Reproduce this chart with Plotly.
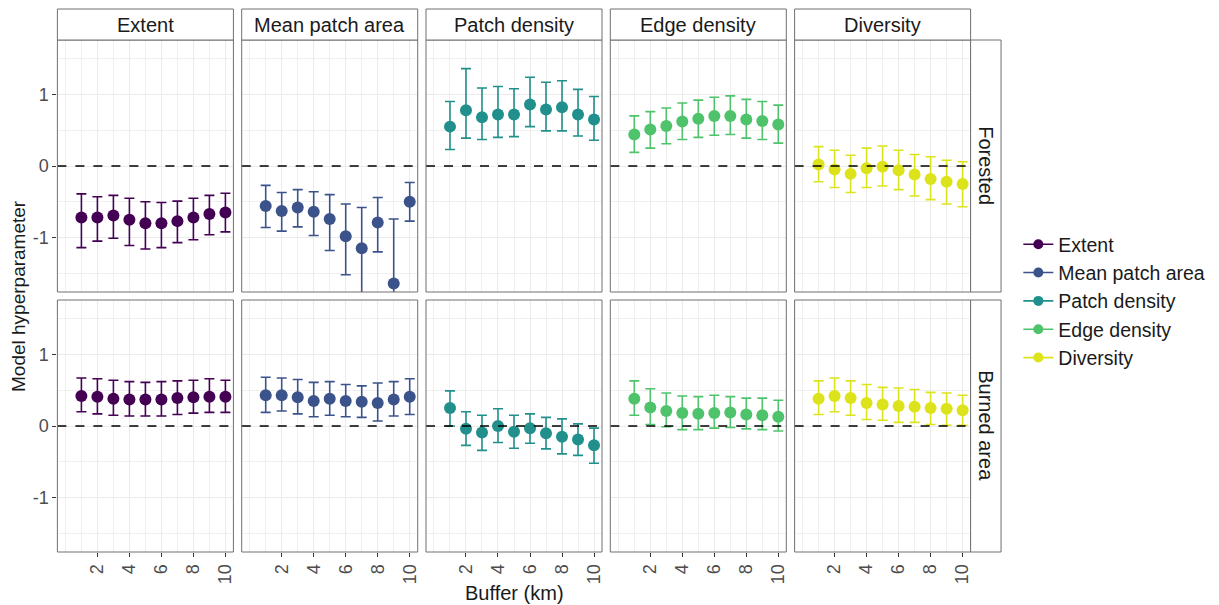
import plotly.graph_objects as go

buffer_km = [1, 2, 3, 4, 5, 6, 7, 8, 9, 10]
metrics = ["Extent", "Mean patch area", "Patch density", "Edge density", "Diversity"]
landscapes = ["Forested", "Burned area"]
colors = ["#440154", "#3B528B", "#21908C", "#4EC36B", "#DDE31A"]
x_ticks = [2, 4, 6, 8, 10]
y_ticks = [-1, 0, 1]
y_tick_text = ["-1", "0", "1"]

# Forested
ext_for_est = [-0.72, -0.72, -0.69, -0.75, -0.80, -0.80, -0.77, -0.72, -0.67, -0.65]
ext_for_hi = [-0.39, -0.43, -0.41, -0.45, -0.50, -0.51, -0.49, -0.45, -0.41, -0.38]
ext_for_lo = [-1.14, -1.05, -1.01, -1.11, -1.16, -1.14, -1.07, -1.03, -0.96, -0.92]

mpa_for_est = [-0.56, -0.63, -0.58, -0.64, -0.74, -0.98, -1.15, -0.79, -1.64, -0.50]
mpa_for_hi = [-0.27, -0.37, -0.33, -0.36, -0.40, -0.53, -0.58, -0.44, -0.74, -0.23]
mpa_for_lo = [-0.86, -0.91, -0.85, -0.97, -1.18, -1.52, -1.85, -1.20, -2.50, -0.77]

pd_for_est = [0.55, 0.78, 0.68, 0.72, 0.72, 0.86, 0.79, 0.82, 0.72, 0.65]
pd_for_hi = [0.90, 1.36, 1.09, 1.11, 1.08, 1.24, 1.17, 1.19, 1.07, 0.97]
pd_for_lo = [0.23, 0.39, 0.37, 0.40, 0.41, 0.55, 0.49, 0.49, 0.42, 0.36]

ed_for_est = [0.44, 0.51, 0.56, 0.62, 0.66, 0.70, 0.70, 0.65, 0.63, 0.58]
ed_for_hi = [0.70, 0.76, 0.81, 0.88, 0.92, 0.96, 0.98, 0.93, 0.90, 0.85]
ed_for_lo = [0.19, 0.25, 0.31, 0.37, 0.40, 0.43, 0.44, 0.39, 0.37, 0.32]

div_for_est = [0.02, -0.05, -0.11, -0.03, -0.01, -0.06, -0.12, -0.18, -0.22, -0.25]
div_for_hi = [0.27, 0.22, 0.15, 0.25, 0.28, 0.22, 0.16, 0.13, 0.08, 0.06]
div_for_lo = [-0.22, -0.30, -0.37, -0.30, -0.28, -0.33, -0.42, -0.47, -0.53, -0.57]

# Burned area
ext_bur_est = [0.42, 0.41, 0.38, 0.37, 0.37, 0.37, 0.39, 0.40, 0.41, 0.41]
ext_bur_hi = [0.67, 0.66, 0.64, 0.62, 0.61, 0.62, 0.63, 0.64, 0.66, 0.64]
ext_bur_lo = [0.20, 0.17, 0.15, 0.14, 0.14, 0.14, 0.16, 0.18, 0.19, 0.19]

mpa_bur_est = [0.43, 0.43, 0.40, 0.35, 0.38, 0.35, 0.34, 0.32, 0.37, 0.41]
mpa_bur_hi = [0.68, 0.67, 0.65, 0.61, 0.62, 0.58, 0.56, 0.60, 0.62, 0.66]
mpa_bur_lo = [0.19, 0.21, 0.17, 0.13, 0.15, 0.13, 0.12, 0.07, 0.14, 0.16]

pd_bur_est = [0.25, -0.04, -0.09, 0.00, -0.08, -0.03, -0.10, -0.15, -0.19, -0.27]
pd_bur_hi = [0.49, 0.20, 0.15, 0.24, 0.15, 0.17, 0.12, 0.10, 0.03, -0.03]
pd_bur_lo = [0.00, -0.27, -0.34, -0.23, -0.31, -0.24, -0.32, -0.39, -0.41, -0.52]

ed_bur_est = [0.38, 0.26, 0.21, 0.18, 0.17, 0.18, 0.19, 0.16, 0.15, 0.13]
ed_bur_hi = [0.63, 0.52, 0.46, 0.42, 0.41, 0.43, 0.41, 0.39, 0.39, 0.36]
ed_bur_lo = [0.15, 0.02, -0.01, -0.05, -0.05, -0.03, -0.02, -0.04, -0.05, -0.07]

div_bur_est = [0.38, 0.42, 0.39, 0.32, 0.30, 0.28, 0.27, 0.25, 0.24, 0.22]
div_bur_hi = [0.63, 0.67, 0.63, 0.58, 0.54, 0.53, 0.51, 0.47, 0.46, 0.43]
div_bur_lo = [0.16, 0.20, 0.15, 0.09, 0.08, 0.05, 0.05, 0.02, 0.01, 0.01]

series = [
    [(ext_for_est, ext_for_lo, ext_for_hi), (mpa_for_est, mpa_for_lo, mpa_for_hi),
     (pd_for_est, pd_for_lo, pd_for_hi), (ed_for_est, ed_for_lo, ed_for_hi),
     (div_for_est, div_for_lo, div_for_hi)],
    [(ext_bur_est, ext_bur_lo, ext_bur_hi), (mpa_bur_est, mpa_bur_lo, mpa_bur_hi),
     (pd_bur_est, pd_bur_lo, pd_bur_hi), (ed_bur_est, ed_bur_lo, ed_bur_hi),
     (div_bur_est, div_bur_lo, div_bur_hi)],
]

W, H = 1219, 605
FONT = "Liberation Sans, Arial, sans-serif"
panel_left0 = 57.5
panel_w = 176.3
panel_step = 184.6
row_tops = [40.0, 300.0]
panel_h = 252.0
strip_h = 31.0
strip_w = 30.5

def fx(px):
    return px / W

def fy(py):
    return 1 - py / H

fig = go.Figure()
layout = dict(
    width=W, height=H, margin=dict(l=0, r=0, t=0, b=0),
    paper_bgcolor="white", plot_bgcolor="white",
    font=dict(family=FONT, color="#1A1A1A"),
    shapes=[], annotations=[],
)

for r in range(2):
    for c in range(5):
        k = r * 5 + c + 1
        xa = "xaxis" if k == 1 else f"xaxis{k}"
        ya = "yaxis" if k == 1 else f"yaxis{k}"
        xr = "x" if k == 1 else f"x{k}"
        yr = "y" if k == 1 else f"y{k}"
        x0 = panel_left0 + c * panel_step
        x1 = x0 + panel_w
        y0 = row_tops[r]
        y1 = y0 + panel_h
        layout[xa] = dict(
            domain=[fx(x0), fx(x1)], anchor=yr, range=[-0.5, 10.5],
            tickmode="array", tickvals=x_ticks,
            showticklabels=(r == 1), tickangle=-90,
            tickfont=dict(size=18, color="#4D4D4D", family=FONT),
            ticks="outside" if r == 1 else "", ticklen=4, tickcolor="#333333", tickwidth=1,
            showgrid=True, gridcolor="#EBEBEB", gridwidth=1,
            minor=dict(tickmode="array", tickvals=[0, 1, 3, 5, 7, 9], showgrid=True,
                       gridcolor="#F0F0F0", gridwidth=0.6, ticks=""),
            zeroline=False, showline=False,
        )
        layout[ya] = dict(
            domain=[fy(y1), fy(y0)], anchor=xr, range=[-1.76, 1.76],
            tickmode="array", tickvals=y_ticks, ticktext=y_tick_text,
            showticklabels=(c == 0),
            tickfont=dict(size=18, color="#4D4D4D", family=FONT),
            ticks="outside" if c == 0 else "", ticklen=4, tickcolor="#333333", tickwidth=1,
            showgrid=True, gridcolor="#EBEBEB", gridwidth=1,
            minor=dict(tickmode="array", tickvals=[-1.5, -0.5, 0.5, 1.5], showgrid=True,
                       gridcolor="#F0F0F0", gridwidth=0.6, ticks=""),
            zeroline=False, showline=False,
        )
        est, lo, hi = series[r][c]
        fig.add_trace(go.Scatter(
            x=buffer_km, y=est, mode="markers", xaxis=xr, yaxis=yr,
            marker=dict(size=12, color=colors[c]),
            error_y=dict(type="data", symmetric=False,
                         array=[h - e for h, e in zip(hi, est)],
                         arrayminus=[e - l for e, l in zip(est, lo)],
                         color=colors[c], thickness=1.6, width=5),
            showlegend=False, hoverinfo="skip",
        ))
        # zero line
        layout["shapes"].append(dict(
            type="line", xref=f"{xr} domain", yref=yr, x0=0, x1=1, y0=0, y1=0,
            line=dict(color="black", width=1.3, dash="dash"), layer="above"))
        # panel border
        layout["shapes"].append(dict(
            type="rect", xref="paper", yref="paper",
            x0=fx(x0), x1=fx(x1), y0=fy(y1), y1=fy(y0),
            line=dict(color="#707070", width=1), fillcolor="rgba(0,0,0,0)", layer="above"))
        if r == 0:
            layout["shapes"].append(dict(
                type="rect", xref="paper", yref="paper",
                x0=fx(x0), x1=fx(x1), y0=fy(y0), y1=fy(y0 - strip_h),
                line=dict(color="#707070", width=1), fillcolor="white", layer="above"))
            layout["annotations"].append(dict(
                x=fx((x0 + x1) / 2), y=fy(y0 - strip_h / 2), xref="paper", yref="paper",
                text=metrics[c], showarrow=False, xanchor="center", yanchor="middle",
                font=dict(size=20, color="#1A1A1A", family=FONT)))
        if c == 4:
            layout["shapes"].append(dict(
                type="rect", xref="paper", yref="paper",
                x0=fx(x1), x1=fx(x1 + strip_w), y0=fy(y1), y1=fy(y0),
                line=dict(color="#707070", width=1), fillcolor="white", layer="above"))
            layout["annotations"].append(dict(
                x=fx(x1 + strip_w / 2), y=fy((y0 + y1) / 2), xref="paper", yref="paper",
                text=landscapes[r], showarrow=False, textangle=90,
                xanchor="center", yanchor="middle",
                font=dict(size=20, color="#1A1A1A", family=FONT)))

# legend-only traces
for c in range(5):
    fig.add_trace(go.Scatter(
        x=[None], y=[None], mode="lines+markers", name=metrics[c],
        marker=dict(size=10, color=colors[c]), line=dict(color=colors[c], width=1.6),
        showlegend=True))

layout["legend"] = dict(
    x=fx(1020), xanchor="left", y=fy(301), yanchor="middle",
    font=dict(size=19.5, color="#1A1A1A", family=FONT),
    bgcolor="rgba(0,0,0,0)", tracegroupgap=0, itemwidth=30,
)

layout["annotations"].append(dict(
    x=fx(18), y=fy(296), xref="paper", yref="paper", text="Model hyperparameter",
    showarrow=False, textangle=-90, xanchor="center", yanchor="middle",
    font=dict(size=19, color="#1A1A1A", family=FONT)))
layout["annotations"].append(dict(
    x=fx(515), y=fy(593), xref="paper", yref="paper", text="Buffer (km)",
    showarrow=False, xanchor="center", yanchor="middle",
    font=dict(size=20, color="#1A1A1A", family=FONT)))

fig.update_layout(**layout)
fig.write_html("out.html")
